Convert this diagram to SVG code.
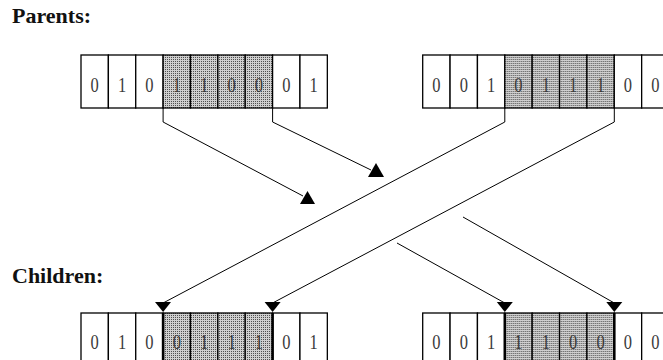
<svg xmlns="http://www.w3.org/2000/svg" width="663" height="360" viewBox="0 0 663 360">
<style>
.lbl{font-family:"Liberation Serif","Times New Roman",serif;font-weight:bold;font-size:22px;fill:#111}
.dg{font-family:"Liberation Serif","Times New Roman",serif;font-size:22px;fill:#3a3a3a;text-anchor:middle}
.cell{fill:#fff;stroke:#000;stroke-width:1.3}
.sh{fill:url(#dots);stroke:#000;stroke-width:1.3}
.edge{stroke:#000;stroke-width:2.6}
.con{fill:none;stroke:#000;stroke-width:1}
.ah{fill:#000}
</style>
<defs>
<pattern id="dots" width="2" height="2" patternUnits="userSpaceOnUse">
<rect width="2" height="2" fill="#cfcfcf"/>
<rect width="1" height="1" fill="#505050"/>
</pattern>
<g id="row">
<rect class="cell" x="0" y="0" width="27.37" height="53"/>
<rect class="cell" x="27.37" y="0" width="27.37" height="53"/>
<rect class="cell" x="54.74" y="0" width="27.37" height="53"/>
<rect class="sh" x="82.11" y="0" width="27.37" height="53"/>
<rect class="sh" x="109.48" y="0" width="27.37" height="53"/>
<rect class="sh" x="136.85" y="0" width="27.37" height="53"/>
<rect class="sh" x="164.22" y="0" width="27.37" height="53"/>
<rect class="cell" x="191.59" y="0" width="27.37" height="53"/>
<rect class="cell" x="218.96" y="0" width="27.37" height="53"/>
</g>
</defs>

<text class="lbl" x="12" y="23">Parents:</text>
<text class="lbl" x="12" y="283">Children:</text>

<g id="parent1" transform="translate(81,55)">
<use href="#row"/>
<g transform="scale(0.75,1)">
<text class="dg" y="37" x="18.3">0</text><text class="dg" y="37" x="54.8">1</text><text class="dg" y="37" x="91.2">0</text>
<text class="dg" y="37" x="127.7">1</text><text class="dg" y="37" x="164.3">1</text><text class="dg" y="37" x="200.7">0</text>
<text class="dg" y="37" x="237.2">0</text><text class="dg" y="37" x="273.7">0</text><text class="dg" y="37" x="310.1">1</text>
</g>
</g>

<g id="parent2" transform="translate(422.7,55)">
<use href="#row"/>
<g transform="scale(0.75,1)">
<text class="dg" y="37" x="18.3">0</text><text class="dg" y="37" x="54.8">0</text><text class="dg" y="37" x="91.2">1</text>
<text class="dg" y="37" x="127.7">0</text><text class="dg" y="37" x="164.3">1</text><text class="dg" y="37" x="200.7">1</text>
<text class="dg" y="37" x="237.2">1</text><text class="dg" y="37" x="273.7">0</text><text class="dg" y="37" x="310.1">0</text>
</g>
</g>

<g id="child1" transform="translate(81,313)">
<use href="#row"/>
<line class="edge" x1="82.11" y1="0" x2="82.11" y2="53"/>
<line class="edge" x1="191.59" y1="0" x2="191.59" y2="53"/>
<g transform="scale(0.75,1)">
<text class="dg" y="36" x="18.3">0</text><text class="dg" y="36" x="54.8">1</text><text class="dg" y="36" x="91.2">0</text>
<text class="dg" y="36" x="127.7">0</text><text class="dg" y="36" x="164.3">1</text><text class="dg" y="36" x="200.7">1</text>
<text class="dg" y="36" x="237.2">1</text><text class="dg" y="36" x="273.7">0</text><text class="dg" y="36" x="310.1">1</text>
</g>
</g>

<g id="child2" transform="translate(422.7,313)">
<use href="#row"/>
<line class="edge" x1="82.11" y1="0" x2="82.11" y2="53"/>
<line class="edge" x1="191.59" y1="0" x2="191.59" y2="53"/>
<g transform="scale(0.75,1)">
<text class="dg" y="36" x="18.3">0</text><text class="dg" y="36" x="54.8">0</text><text class="dg" y="36" x="91.2">1</text>
<text class="dg" y="36" x="127.7">1</text><text class="dg" y="36" x="164.3">1</text><text class="dg" y="36" x="200.7">0</text>
<text class="dg" y="36" x="237.2">0</text><text class="dg" y="36" x="273.7">0</text><text class="dg" y="36" x="310.1">0</text>
</g>
</g>

<g id="connectors">
<path class="con" d="M163.1,108 V122 L303,196"/>
<polygon class="ah" points="300,204 315,204 307.5,191"/>
<path class="con" d="M272.6,108 V122 L371,170"/>
<polygon class="ah" points="368,177 384,177 376,163"/>
<path class="con" d="M504.8,108 V122 L163.1,303"/>
<polygon class="ah" points="155,302 171,302 163.1,312"/>
<path class="con" d="M614.3,108 V122 L272.6,303"/>
<polygon class="ah" points="264.6,302 280.6,302 272.6,312"/>
<path class="con" d="M397,243 L504.8,303"/>
<polygon class="ah" points="496.8,302 512.8,302 504.8,312"/>
<path class="con" d="M463,217 L614.3,303"/>
<polygon class="ah" points="606.3,302 622.3,302 614.3,312"/>
</g>
</svg>
